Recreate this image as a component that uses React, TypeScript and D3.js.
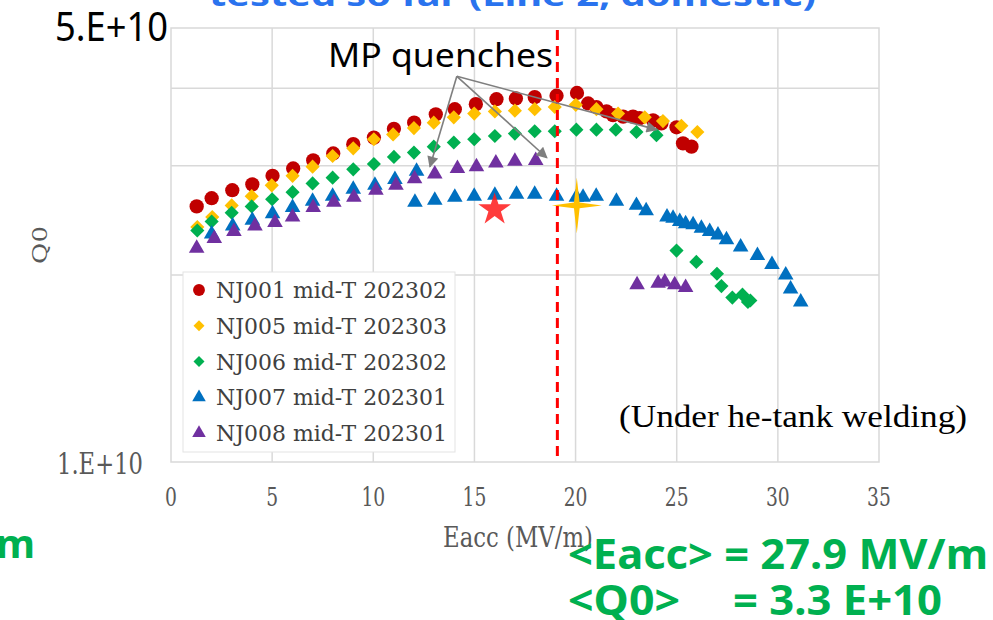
import React from "react";
import * as d3 from "d3";

const W = 993;
const H = 620;

const xTicks = [0, 5, 10, 15, 20, 25, 30, 35];
const yGrid = [2e10, 3e10, 4e10];
const yLabelTop = "5.E+10";
const yLabelBottom = "1.E+10";

const seriesNames = [
  "NJ001 mid-T 202302",
  "NJ005 mid-T 202303",
  "NJ006 mid-T 202302",
  "NJ007 mid-T 202301",
  "NJ008 mid-T 202301",
];

const E001 = [1.27, 2.01, 3.03, 4.02, 5.02, 6.04, 7.03, 8.02, 9.01, 10.03, 11.02, 12.02, 13.09, 14.03, 15.07, 16.09, 17.05, 17.98, 19.06, 20.07, 20.62, 21.03, 21.53, 21.85, 22.35, 22.84, 23.17, 23.83, 24.24, 24.99, 25.31, 25.73];
const Q001 = [2.58, 2.66, 2.74, 2.8, 2.89, 2.97, 3.06, 3.14, 3.25, 3.33, 3.44, 3.52, 3.63, 3.7, 3.77, 3.84, 3.85, 3.87, 3.89, 3.93, 3.78, 3.73, 3.67, 3.62, 3.6, 3.6, 3.58, 3.55, 3.51, 3.46, 3.26, 3.22];

const E005 = [1.3, 2.04, 3.0, 3.99, 4.98, 6.01, 7.0, 7.99, 9.01, 10.03, 10.98, 12.01, 12.99, 13.98, 14.99, 16.01, 17.0, 17.98, 18.97, 20.01, 21.03, 22.1, 23.42, 24.32, 25.23, 26.02];
const Q005 = [2.39, 2.48, 2.59, 2.68, 2.79, 2.89, 2.99, 3.11, 3.2, 3.31, 3.37, 3.45, 3.52, 3.59, 3.64, 3.67, 3.68, 3.7, 3.73, 3.76, 3.7, 3.64, 3.59, 3.54, 3.48, 3.4];

const E006 = [1.3, 2.01, 3.0, 3.99, 5.0, 6.01, 7.0, 7.99, 9.01, 10.03, 11.02, 12.01, 12.99, 13.98, 14.99, 16.01, 17.0, 17.98, 18.97, 20.04, 21.03, 21.99, 23.01, 24.0, 24.99, 25.97, 26.99, 27.21, 27.75, 28.25, 28.52, 28.64];
const Q006 = [2.36, 2.44, 2.52, 2.58, 2.65, 2.72, 2.81, 2.87, 2.96, 3.02, 3.1, 3.15, 3.22, 3.27, 3.31, 3.35, 3.38, 3.41, 3.41, 3.43, 3.43, 3.43, 3.4, 3.36, 2.19, 2.1, 2.01, 1.92, 1.84, 1.86, 1.81, 1.82];

const E007 = [2.01, 3.05, 4.02, 5.02, 6.01, 7.0, 7.99, 9.01, 10.08, 11.07, 12.14, 12.06, 13.04, 14.03, 14.99, 16.01, 17.08, 17.98, 19.06, 20.04, 20.37, 21.02, 22.02, 23.01, 23.49, 24.52, 24.82, 25.15, 25.44, 25.81, 26.22, 26.63, 27.04, 27.46, 28.16, 28.99, 29.71, 30.39, 30.63, 31.13];
const Q007 = [2.33, 2.4, 2.45, 2.51, 2.57, 2.63, 2.68, 2.75, 2.79, 2.85, 2.94, 2.62, 2.64, 2.67, 2.68, 2.69, 2.7, 2.7, 2.68, 2.67, 2.67, 2.68, 2.63, 2.59, 2.54, 2.48, 2.47, 2.44, 2.42, 2.41, 2.38, 2.35, 2.32, 2.28, 2.22, 2.15, 2.08, 2.0, 1.9, 1.81];

const E008 = [1.27, 2.14, 3.11, 4.15, 5.14, 6.01, 7.03, 8.05, 9.04, 10.13, 11.12, 12.04, 13.04, 14.16, 15.1, 16.06, 17.0, 18.03, 23.04, 24.08, 24.41, 24.9, 25.44];
const Q008 = [2.21, 2.29, 2.35, 2.4, 2.43, 2.48, 2.57, 2.62, 2.67, 2.74, 2.79, 2.86, 2.91, 2.97, 2.99, 3.03, 3.05, 3.06, 1.93, 1.94, 1.95, 1.93, 1.91];

// target markers
const redStarE = [16.0];
const redStarQ = [2.55];
const yellowStarE = [20.06];
const yellowStarQ = [2.59];

// dashed line at Eacc
const dashedE = 19.1;

// MP quenches arrows (origin + targets)
const arrowOriginE = 14.13;
const arrowOriginQ = 4.18;
const arrowTargetE = [12.8, 18.58, 24.01];
const arrowTargetQ = [2.99, 3.09, 3.43];

const colors = ["#c00000", "#ffc000", "#00b050", "#0070c0", "#7030a0"];

const x = d3.scaleLinear().domain([0, 35]).range([171, 879]);
const y = d3.scaleLog().domain([1e10, 5e10]).range([462, 28]);

const circlePath = d3.symbol(d3.symbolCircle, 160)()!;
const squarePath = d3.symbol(d3.symbolSquare, 100)()!;
const triPath = d3.symbol(d3.symbolTriangle, 105)()!;
const starPath = d3.symbol(d3.symbolStar, 330)()!;
const fourStar = d3
  .lineRadial<[number, number]>()
  .angle((d) => d[0])
  .radius((d) => d[1])
  .curve(d3.curveLinearClosed)(
  d3.range(8).map((i) => [
    (i * Math.PI) / 4,
    i % 2 === 0 ? (i % 4 === 0 ? 28 : 25) : 4,
  ])
)!;

const legendPaths = [
  d3.symbol(d3.symbolCircle, 110)()!,
  d3.symbol(d3.symbolSquare, 60)()!,
  d3.symbol(d3.symbolSquare, 60)()!,
  d3.symbol(d3.symbolTriangle, 80)()!,
  d3.symbol(d3.symbolTriangle, 80)()!,
];

const series = [
  { E: E001, Q: Q001, path: circlePath, rot: 0 },
  { E: E005, Q: Q005, path: squarePath, rot: 45 },
  { E: E006, Q: Q006, path: squarePath, rot: 45 },
  { E: E007, Q: Q007, path: triPath, rot: 0 },
  { E: E008, Q: Q008, path: triPath, rot: 0 },
];

const serif = "'DejaVu Serif', 'Liberation Serif', serif";
const times = "'Liberation Serif', serif";
const sans = "'Noto Sans', 'Open Sans', sans-serif";

export default function App() {
  const gridColor = "#d9d9d9";
  return (
    <svg
      width={W}
      height={H}
      style={{ position: "fixed", left: 0, top: 0, background: "#fff" }}
    >
      {/* top cut title */}
      <text
        x={209}
        y={6}
        fontFamily={sans}
        fontWeight={700}
        fontSize={31}
        fill="#2a73ee"
        textLength={607}
        lengthAdjust="spacingAndGlyphs"
      >
        tested so far (Line 2, domestic)
      </text>

      {/* plot area */}
      <rect x={171} y={28} width={708} height={434} fill="#fff" stroke={gridColor} strokeWidth={1.5} />
      {xTicks.slice(1, -1).map((t) => (
        <line key={t} x1={x(t)} x2={x(t)} y1={28} y2={462} stroke={gridColor} strokeWidth={1.5} />
      ))}
      {yGrid.map((t) => (
        <line key={t} x1={171} x2={879} y1={y(t)} y2={y(t)} stroke={gridColor} strokeWidth={1.5} />
      ))}

      {/* x tick labels */}
      {xTicks.map((t) => (
        <text
          key={t}
          transform={`translate(${x(t)},506) scale(0.72,1)`}
          textAnchor="middle"
          fontFamily={serif}
          fontSize={26}
          fill="#595959"
        >
          {t}
        </text>
      ))}

      {/* y labels */}
      <text x={168} y={41} textAnchor="end" fontFamily={sans} fontSize={40} fill="#000" textLength={113} lengthAdjust="spacingAndGlyphs">
        {yLabelTop}
      </text>
      <text x={143} y={474} textAnchor="end" fontFamily={serif} fontSize={29} fill="#595959" textLength={86} lengthAdjust="spacingAndGlyphs">
        {yLabelBottom}
      </text>
      <text
        transform="translate(47,245) rotate(-90) scale(1,0.78)"
        textAnchor="middle"
        fontFamily={serif}
        fontSize={26}
        fill="#595959"
      >
        Q0
      </text>
      <text x={443} y={547} fontFamily={serif} fontSize={28} fill="#595959" textLength={150} lengthAdjust="spacingAndGlyphs">
        Eacc (MV/m)
      </text>

      {/* data */}
      {series.map((s, si) => (
        <g key={si} fill={colors[si]}>
          {s.E.map((e, i) => (
            <path
              key={i}
              d={s.path}
              transform={`translate(${x(e)},${y(s.Q[i] * 1e10)}) rotate(${s.rot})`}
            />
          ))}
        </g>
      ))}

      {/* stars */}
      {redStarE.map((e, i) => (
        <path
          key={"rs" + i}
          d={starPath}
          fill="#ff1a1a"
          fillOpacity={0.85}
          transform={`translate(${x(e)},${y(redStarQ[i] * 1e10)})`}
        />
      ))}
      {yellowStarE.map((e, i) => (
        <path
          key={"ys" + i}
          d={fourStar}
          fill="#ffc000"
          transform={`translate(${x(e)},${y(yellowStarQ[i] * 1e10)})`}
        />
      ))}

      {/* dashed line */}
      <line
        x1={x(dashedE)}
        x2={x(dashedE)}
        y1={30}
        y2={462}
        stroke="#ff0000"
        strokeWidth={3}
        strokeDasharray="10,6"
      />

      {/* arrows */}
      <defs>
        <marker id="ah" viewBox="0 0 10 10" refX={9} refY={5} markerWidth={8} markerHeight={7} orient="auto">
          <path d="M0,0 L10,5 L0,10 z" fill="#7f7f7f" />
        </marker>
      </defs>
      {arrowTargetE.map((e, i) => (
        <line
          key={"a" + i}
          x1={x(arrowOriginE)}
          y1={y(arrowOriginQ * 1e10)}
          x2={x(e)}
          y2={y(arrowTargetQ[i] * 1e10)}
          stroke="#7f7f7f"
          strokeWidth={1.6}
          markerEnd="url(#ah)"
        />
      ))}
      <text x={328} y={67} fontFamily={sans} fontSize={33} fill="#000" textLength={225} lengthAdjust="spacingAndGlyphs">
        MP quenches
      </text>

      {/* legend */}
      <rect x={183} y={272} width={272} height={180} fill="#fff" stroke="#e3e3e3" strokeWidth={1} />
      {seriesNames.map((n, i) => (
        <g key={n} transform={`translate(0,${290 + i * 35.8})`}>
          <path
            d={legendPaths[i]}
            fill={colors[i]}
            transform={`translate(199,0) rotate(${i === 1 || i === 2 ? 45 : 0})`}
          />
          <text x={216} y={8} fontFamily={serif} fontSize={22} fill="#404040" textLength={231} lengthAdjust="spacingAndGlyphs">
            {n}
          </text>
        </g>
      ))}

      <text x={619} y={427} fontFamily={times} fontSize={31} fill="#000" textLength={348} lengthAdjust="spacingAndGlyphs">
        (Under he-tank welding)
      </text>

      {/* green annotations */}
      <text x={-4} y={558} fontFamily={sans} fontWeight={700} fontSize={40} fill="#00b050">
        m
      </text>
      <text x={568} y={569} fontFamily={sans} fontWeight={700} fontSize={41} fill="#00b050" textLength={420} lengthAdjust="spacingAndGlyphs">
        {"<Eacc> = 27.9 MV/m"}
      </text>
      <text x={568} y={615} fontFamily={sans} fontWeight={700} fontSize={41} fill="#00b050" textLength={112} lengthAdjust="spacingAndGlyphs">
        {"<Q0>"}
      </text>
      <text x={733} y={615} fontFamily={sans} fontWeight={700} fontSize={41} fill="#00b050" textLength={209} lengthAdjust="spacingAndGlyphs">
        {"= 3.3 E+10"}
      </text>
    </svg>
  );
}
